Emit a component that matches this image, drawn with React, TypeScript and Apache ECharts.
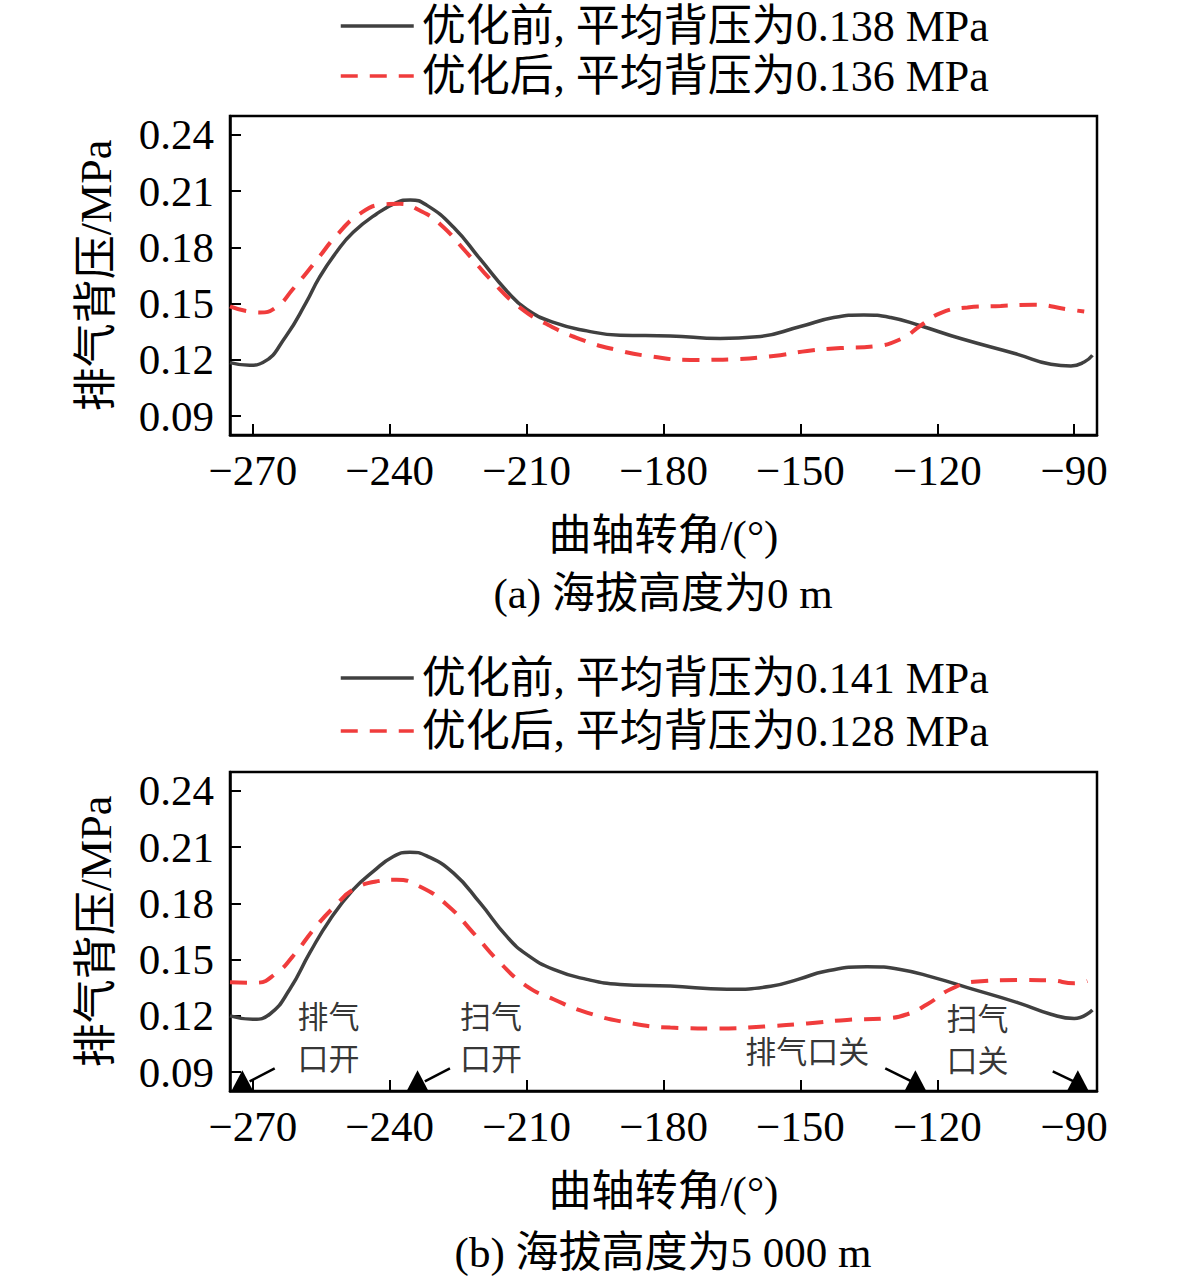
import React, { useEffect, useRef } from "react";
import * as echarts from "echarts";

const FONT = "'Liberation Serif','Times New Roman','Noto Sans CJK SC',serif";

const xTicks = [-270, -240, -210, -180, -150, -120, -90];
const yTicks = [0.09, 0.12, 0.15, 0.18, 0.21, 0.24];

const nameA1 = "优化前, 平均背压为0.138 MPa";
const nameA2 = "优化后, 平均背压为0.136 MPa";
const nameB1 = "优化前, 平均背压为0.141 MPa";
const nameB2 = "优化后, 平均背压为0.128 MPa";

const captionA = "(a) 海拔高度为0 m";
const captionB = "(b) 海拔高度为5 000 m";
const xName = "曲轴转角/(°)";
const yName = "排气背压/MPa";

const beforeA = [
  [-275, 0.1186], [-270.7, 0.1172], [-267.8, 0.1186], [-262.7, 0.1328], [-258.3, 0.1507],
  [-255.4, 0.164], [-251.7, 0.1774], [-248.0, 0.188], [-242.9, 0.1978], [-238.5, 0.2038],
  [-235.5, 0.2053], [-231.9, 0.2025], [-226.0, 0.1907], [-220.2, 0.1738], [-214.4, 0.1569],
  [-210, 0.147], [-204.1, 0.14], [-196.8, 0.1355], [-189.5, 0.1332], [-178.5, 0.1328],
  [-167.6, 0.1314], [-159.5, 0.1323], [-150, 0.1378], [-142.7, 0.1426], [-136.1, 0.144],
  [-130.2, 0.1426], [-123.7, 0.1382], [-114.9, 0.1314], [-102.4, 0.123], [-95.1, 0.1177],
  [-90.7, 0.1168], [-87.8, 0.1189], [-86, 0.1225],
];
const afterA = [
  [-275, 0.1485], [-268.5, 0.1453], [-264.9, 0.148], [-261.2, 0.1578], [-256.1, 0.1729],
  [-251.7, 0.1862], [-246.6, 0.1978], [-241.5, 0.2028], [-237.8, 0.2032], [-233.4, 0.1996],
  [-229.0, 0.1925], [-223.2, 0.1774], [-217.3, 0.1613], [-211.5, 0.148], [-205.6, 0.1391],
  [-198.3, 0.1311], [-190.2, 0.1253], [-182.5, 0.1218], [-174.1, 0.12], [-164.6, 0.1204],
  [-155.9, 0.1221], [-148.5, 0.1248], [-141.2, 0.1263], [-133.9, 0.1272], [-128.0, 0.1311],
  [-123.7, 0.1382], [-119.3, 0.145], [-113.4, 0.148], [-106.1, 0.1488], [-98.8, 0.1494],
  [-91.5, 0.147], [-87.8, 0.1458],
];
const beforeB = [
  [-275, 0.12], [-270, 0.1182], [-266.3, 0.1209], [-261.9, 0.1342], [-257.5, 0.1537],
  [-253.1, 0.1713], [-248.0, 0.1873], [-243.6, 0.197], [-239.2, 0.205], [-235.6, 0.2073],
  [-231.9, 0.2053], [-226.0, 0.1961], [-220.2, 0.1802], [-214.4, 0.1625], [-210, 0.1528],
  [-204.1, 0.1448], [-196.8, 0.1395], [-189.5, 0.1368], [-178.5, 0.1359], [-166.1, 0.1342],
  [-156.5, 0.1358], [-150.5, 0.1395], [-144.5, 0.1438], [-135.4, 0.1462], [-128.1, 0.1448],
  [-120.7, 0.1404], [-113.4, 0.1351], [-102.4, 0.1271], [-95.1, 0.1209], [-90.0, 0.1186],
  [-86, 0.1232],
];
const afterB = [
  [-275, 0.138], [-269.3, 0.1377], [-264.9, 0.1427], [-261.2, 0.1519], [-256.1, 0.1678],
  [-251.7, 0.1793], [-248.0, 0.1873], [-242.9, 0.1917], [-238.5, 0.1926], [-233.4, 0.189],
  [-227.5, 0.1793], [-221.7, 0.1643], [-215.8, 0.1483], [-210, 0.1359], [-204.1, 0.1289],
  [-196.8, 0.1218], [-188.0, 0.1165], [-178.5, 0.1138], [-168.3, 0.1133], [-155.9, 0.1147],
  [-148.5, 0.116], [-139.8, 0.1179], [-131.7, 0.1186], [-126.6, 0.1209], [-122.2, 0.1262],
  [-117.1, 0.1342], [-111.2, 0.1384], [-102.4, 0.1391], [-95.1, 0.1389], [-90, 0.1374],
  [-87.1, 0.1386],
];

// port timing markers (bottom plot)
const markerPoints = [[-272.3, 0.0857], [-233.9, 0.0857], [-124.8, 0.0857], [-89.2, 0.0857]];
const arrowSegments = [
  [[-265.2, 0.0921], [-270.7, 0.0851]],
  [[-226.8, 0.0921], [-232.3, 0.0851]],
  [[-131.4, 0.0921], [-125.2, 0.0846]],
  [[-94.7, 0.0905], [-90.1, 0.0851]],
];
const notes = [
  { value: [-253.4, 0.108], name: "排气\n口开" },
  { value: [-217.8, 0.108], name: "扫气\n口开" },
  { value: [-148.5, 0.1006], name: "排气口关" },
  { value: [-111.2, 0.107], name: "扫气\n口关" },
];

const BLACK = "#404040";
const RED = "#f03c3c";

function xAxisCfg(gridIndex: number) {
  return {
    type: "value",
    gridIndex,
    min: -275,
    max: -85,
    name: xName,
    nameLocation: "middle",
    nameGap: 78,
    nameTextStyle: { fontFamily: FONT, fontSize: 43, color: "#000", lineHeight: 44 },
    axisLine: { show: true, lineStyle: { color: "#000", width: 2.5 } },
    axisTick: { show: true, inside: true, length: 11, lineStyle: { color: "#000", width: 2 }, customValues: xTicks },
    axisLabel: {
      customValues: xTicks,
      margin: 14,
      fontFamily: FONT,
      fontSize: 43,
      color: "#000",
      formatter: (v: number) => (v < 0 ? "\u2212" + Math.abs(v) : String(v)),
    },
    splitLine: { show: false },
  };
}

function yAxisCfg(gridIndex: number) {
  return {
    type: "value",
    gridIndex,
    min: 0.08,
    max: 0.25,
    name: yName,
    nameLocation: "middle",
    nameGap: 112,
    nameTextStyle: { fontFamily: FONT, fontSize: 44, color: "#000", lineHeight: 44 },
    axisLine: { show: true, lineStyle: { color: "#000", width: 2.5 } },
    axisTick: { show: true, inside: true, length: 11, lineStyle: { color: "#000", width: 2 }, customValues: yTicks },
    axisLabel: {
      customValues: yTicks,
      margin: 16,
      fontFamily: FONT,
      fontSize: 43,
      color: "#000",
      formatter: (v: number) => v.toFixed(2),
    },
    splitLine: { show: false },
  };
}

function lineSeries(name: string, data: number[][], idx: number, dashed: boolean) {
  return {
    type: "line",
    name,
    xAxisIndex: idx,
    yAxisIndex: idx,
    data,
    smooth: 0.5,
    symbol: "none",
    lineStyle: dashed
      ? { color: RED, width: 4, type: [17, 12] }
      : { color: BLACK, width: 3.5, type: "solid" },
    itemStyle: { color: dashed ? RED : BLACK },
    z: dashed ? 3 : 2,
  };
}

function legendCfg(top: number, gap: number, names: string[]) {
  return {
    orient: "vertical",
    left: 334,
    top,
    itemWidth: 73,
    itemHeight: 14,
    itemGap: gap,
    data: names,
    itemStyle: { opacity: 0 },
    lineStyle: { width: 3.5 },
    textStyle: {
      fontFamily: FONT,
      fontSize: 44,
      color: "#000",
      lineHeight: 50,
      padding: [0, 0, 0, 3],
    },
  };
}

export default function App() {
  const ref = useRef<HTMLDivElement>(null);
  useEffect(() => {
    if (!ref.current) return;
    const chart = echarts.init(ref.current, undefined, { renderer: "svg" });
    const option: any = {
      animation: false,
      backgroundColor: "#fff",
      legend: [legendCfg(-4, 0, [nameA1, nameA2]), legendCfg(648, 3, [nameB1, nameB2])],
      grid: [
        { left: 230, top: 116, width: 867, height: 319, show: true, borderColor: "#000", borderWidth: 2.5, backgroundColor: "transparent" },
        { left: 230, top: 772, width: 867, height: 319, show: true, borderColor: "#000", borderWidth: 2.5, backgroundColor: "transparent" },
      ],
      xAxis: [xAxisCfg(0), xAxisCfg(1)],
      yAxis: [yAxisCfg(0), yAxisCfg(1)],
      series: [
        lineSeries(nameA1, beforeA, 0, false),
        lineSeries(nameA2, afterA, 0, true),
        lineSeries(nameB1, beforeB, 1, false),
        lineSeries(nameB2, afterB, 1, true),
        {
          type: "scatter",
          name: "markers",
          xAxisIndex: 1,
          yAxisIndex: 1,
          data: markerPoints,
          symbol: "triangle",
          symbolSize: [21, 20],
          itemStyle: { color: "#000", opacity: 1 },
          silent: true,
          z: 5,
          markLine: {
            silent: true,
            symbol: ["none", "none"],
            label: { show: false },
            lineStyle: { color: "#000", width: 2.5, type: "solid", opacity: 1 },
            data: arrowSegments.map((s) => [{ coord: s[0] }, { coord: s[1] }]),
          },
        },
        {
          type: "scatter",
          name: "notes",
          xAxisIndex: 1,
          yAxisIndex: 1,
          data: notes,
          symbolSize: 0,
          silent: true,
          label: {
            show: true,
            position: "inside",
            formatter: "{b}",
            fontFamily: FONT,
            fontSize: 31,
            lineHeight: 42,
            color: "#000",
          },
        },
      ],
      graphic: [
        {
          type: "text",
          x: 663,
          y: 593,
          style: { text: captionA, fontFamily: FONT, fontSize: 43, fill: "#000", textAlign: "center", textVerticalAlign: "middle" },
        },
        {
          type: "text",
          x: 663,
          y: 1252,
          style: { text: captionB, fontFamily: FONT, fontSize: 43, fill: "#000", textAlign: "center", textVerticalAlign: "middle" },
        },
      ],
    };
    chart.setOption(option);
    return () => chart.dispose();
  }, []);
  return (
    <div
      ref={ref}
      style={{ position: "absolute", left: 0, top: 0, width: 1181, height: 1285 }}
    />
  );
}
